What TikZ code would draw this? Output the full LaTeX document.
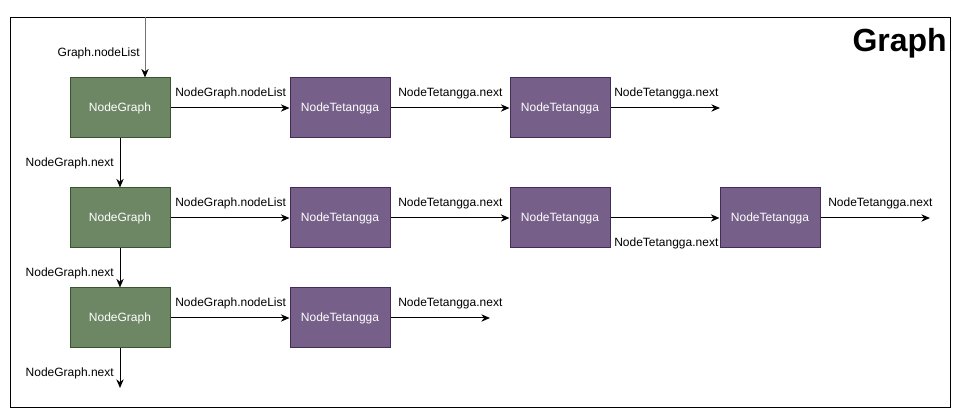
\documentclass[tikz,border=0pt]{standalone}
\usepackage{fontspec}
\setmainfont{Liberation Sans}
\usetikzlibrary{arrows.meta}
\definecolor{ngfill}{HTML}{6D8764}
\definecolor{ngline}{HTML}{3A5431}
\definecolor{ntfill}{HTML}{76608A}
\definecolor{ntline}{HTML}{432D57}
\tikzset{
    graphnode/.style={draw=ngline, fill=ngfill, text=white, minimum width=75pt, minimum height=45pt, inner sep=0pt, line width=0.75pt, font=\fontsize{9}{11}\selectfont},
    tetangga/.style={graphnode, draw=ntline, fill=ntfill},
    ptr/.style={-{Stealth[length=6.5pt, width=5.5pt, black]}, line width=0.75pt},
    lbl/.style={inner sep=0pt, font=\fontsize{9}{11}\selectfont},
}

\begin{document}
\begin{tikzpicture}[x=0.75pt, y=-0.75pt]
    \useasboundingbox (0,0) rectangle (961,420);
    \draw[line width=0.75pt] (10,18) rectangle (950,408);
    \node[anchor=east, inner sep=0pt, font=\fontsize{24}{28}\selectfont\bfseries] (judul) at (947,43) {Graph};
    \node[graphnode] (g1) at (120,108) {NodeGraph};
    \node[graphnode] (g2) at (120,218) {NodeGraph};
    \node[graphnode] (g3) at (120,318) {NodeGraph};
    \node[tetangga] (t11) at (340,108) {NodeTetangga};
    \node[tetangga] (t12) at (560,108) {NodeTetangga};
    \node[tetangga] (t21) at (340,218) {NodeTetangga};
    \node[tetangga] (t22) at (560,218) {NodeTetangga};
    \node[tetangga] (t23) at (770,218) {NodeTetangga};
    \node[tetangga] (t31) at (340,318) {NodeTetangga};
    \coordinate (masuk) at (145,17);
    \coordinate (ujung1) at (720,108);
    \coordinate (ujung2) at (930,218);
    \coordinate (ujung3) at (490,318);
    \coordinate (ujung4) at (120,388);
    \draw[ptr, draw=black!55](masuk)--(masuk |- g1.north);
    \draw[ptr](g1)--(t11);
    \draw[ptr](t11)--(t12);
    \draw[ptr](t12.east)--(ujung1);
    \draw[ptr](g1)--(g2);
    \draw[ptr](g2)--(t21);
    \draw[ptr](t21)--(t22);
    \draw[ptr](t22)--(t23);
    \draw[ptr](t23.east)--(ujung2);
    \draw[ptr](g2)--(g3);
    \draw[ptr](g3)--(t31);
    \draw[ptr](t31.east)--(ujung3);
    \draw[ptr](g3.south)--(ujung4);
    \node[lbl, anchor=east] (l0) at (140,53) {Graph.nodeList};
    \node[lbl, anchor=west] (l1) at (175,93) {NodeGraph.nodeList};
    \node[lbl, anchor=west] (l2) at (398,93) {NodeTetangga.next};
    \node[lbl, anchor=west] (l3) at (614,93) {NodeTetangga.next};
    \node[lbl, anchor=east] (l4) at (114,163) {NodeGraph.next};
    \node[lbl, anchor=west] (l5) at (175,203) {NodeGraph.nodeList};
    \node[lbl, anchor=west] (l6) at (398,203) {NodeTetangga.next};
    \node[lbl, anchor=west] (l7) at (614,243) {NodeTetangga.next};
    \node[lbl, anchor=west] (l8) at (828,203) {NodeTetangga.next};
    \node[lbl, anchor=east] (l9) at (114,273) {NodeGraph.next};
    \node[lbl, anchor=west] (l10) at (175,303) {NodeGraph.nodeList};
    \node[lbl, anchor=west] (l11) at (398,303) {NodeTetangga.next};
    \node[lbl, anchor=east] (l12) at (114,373) {NodeGraph.next};
\end{tikzpicture}
\end{document}
